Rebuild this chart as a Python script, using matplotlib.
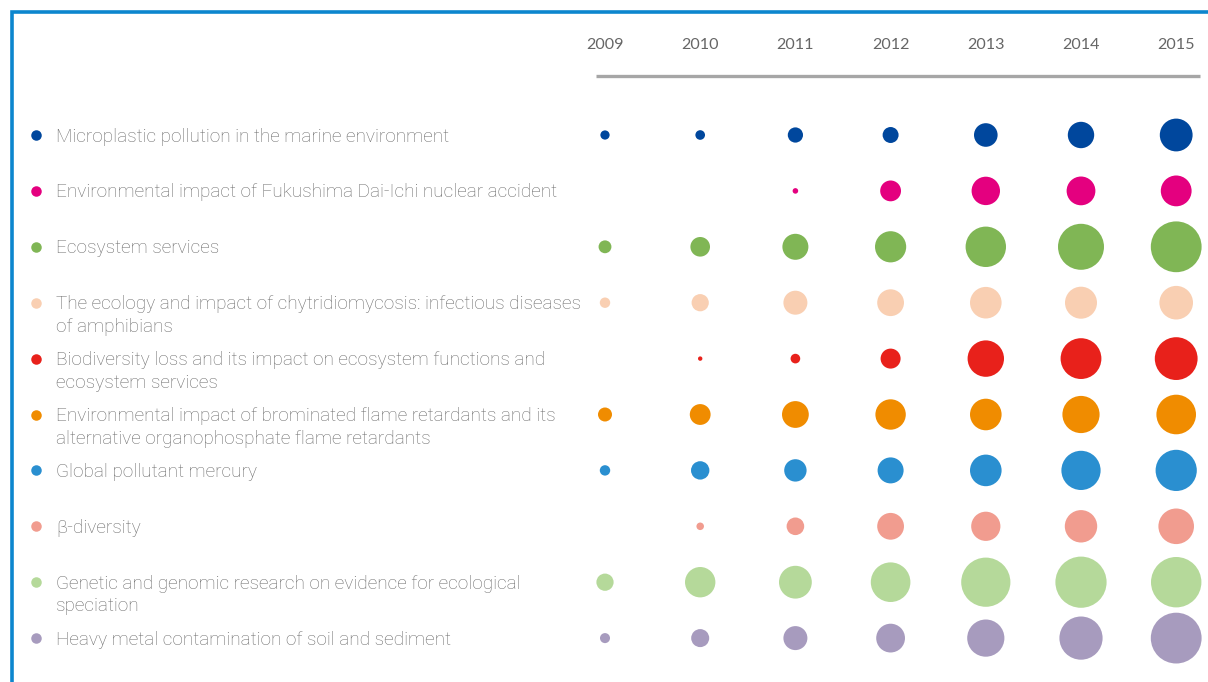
import numpy as np
import matplotlib
matplotlib.use("Agg")
import matplotlib.pyplot as plt

years = ["2009", "2010", "2011", "2012", "2013", "2014", "2015"]
topics = [
    "Microplastic pollution in the marine environment",
    "Environmental impact of Fukushima Dai-Ichi nuclear accident",
    "Ecosystem services",
    "The ecology and impact of chytridiomycosis: infectious diseases\nof amphibians",
    "Biodiversity loss and its impact on ecosystem functions and\necosystem services",
    "Environmental impact of brominated flame retardants and its\nalternative organophosphate flame retardants",
    "Global pollutant mercury",
    "\u03b2-diversity",
    "Genetic and genomic research on evidence for ecological\nspeciation",
    "Heavy metal contamination of soil and sediment",
]
colors = ["#00479D", "#E4007F", "#80B655", "#F9CFB2", "#E8211B",
          "#F08C00", "#2A8FD0", "#F19C8F", "#B5D99A", "#A79BBE"]

# relative activity (bubble area), None = no data
microplastic = [3.3, 3.6, 9.0, 9.9, 21.6, 27.0, 41.7]
fukushima = [None, None, 1.2, 16.8, 31.3, 32.1, 36.8]
ecosystem = [6.4, 14.9, 26.2, 37.7, 63.3, 82.0, 100.0]
chytrid = [4.2, 11.5, 22.3, 27.8, 38.7, 39.7, 43.8]
biodiversity = [None, 0.75, 3.6, 15.5, 51.4, 64.5, 71.0]
flame = [7.6, 16.8, 27.8, 35.8, 38.7, 53.6, 60.8]
mercury = [4.2, 13.1, 19.4, 26.2, 38.7, 59.6, 65.8]
beta = [None, 2.2, 12.0, 27.8, 33.1, 40.7, 49.1]
speciation = [11.5, 35.8, 41.7, 60.8, 93.8, 101.6, 98.5]
heavymetal = [3.9, 12.6, 22.3, 32.1, 53.6, 72.3, 100.0]
series = [microplastic, fukushima, ecosystem, chytrid, biodiversity,
          flame, mercury, beta, speciation, heavymetal]

W, H = 1208, 682
fig = plt.figure(figsize=(W / 100, H / 100), dpi=100)
ax = fig.add_axes([0, 0, 1, 1])
ax.set_xlim(0, W)
ax.set_ylim(H, 0)
ax.axis("off")

txtcol = "#6a6a6a"

# border
ax.plot([12, 12, W], [H, 11.5, 11.5], color="#0C86CE", lw=2.6,
        solid_joinstyle="miter", clip_on=False)

col_x0, col_dx = 605, 95.2
row_y0, row_dy = 135, 55.9

for i, y in enumerate(years):
    ax.text(col_x0 + i * col_dx, 49, y, ha="center", va="baseline",
            fontsize=11.6, color="#666666", family="Lato")
ax.plot([596, 1200], [75.5, 75.5], color="#a6a6a6", lw=2.4,
        solid_capstyle="butt")

scale = 25.8 * 0.72 ** 2
for r, (name, vals, c) in enumerate(zip(topics, series, colors)):
    y = row_y0 + r * row_dy
    ax.scatter([36], [y], s=(10.5 * 0.72) ** 2, color=c, linewidths=0)
    for k, line in enumerate(name.split("\n")):
        ax.text(56, y + 6.5 + k * 22.5, line, ha="left", va="baseline",
                fontsize=13.7, color=txtcol, family="Roboto",
                fontweight="light")
    xs, ss = [], []
    for i, v in enumerate(vals):
        if v is None:
            continue
        xs.append(col_x0 + i * col_dx)
        ss.append(v * scale)
    ax.scatter(xs, [y] * len(xs), s=ss, color=c, linewidths=0)

fig.savefig("out.png", dpi=100, facecolor="white")
